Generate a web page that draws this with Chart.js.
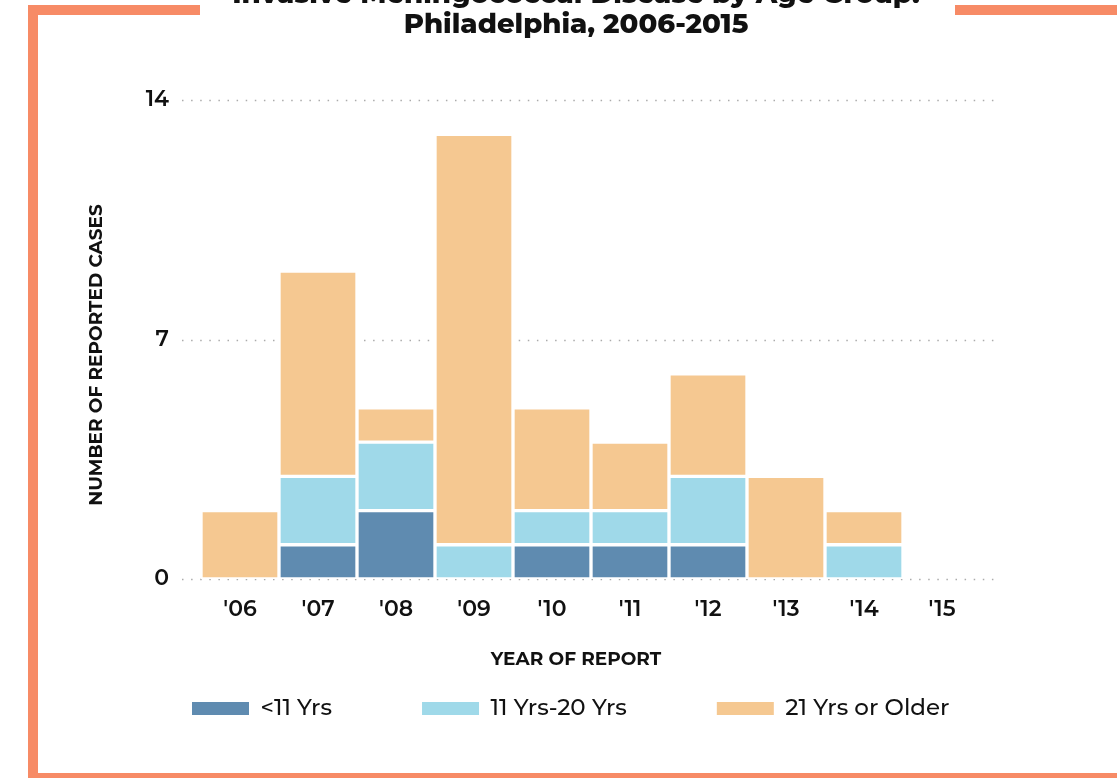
<!DOCTYPE html>
<html><head><meta charset="utf-8">
<script src="https://cdn.jsdelivr.net/npm/chart.js@4.4.1/dist/chart.umd.min.js"></script>
<style>html,body{margin:0;padding:0;background:#fff;overflow:hidden}canvas{display:block}</style>
</head><body>
<canvas id="c" width="1117" height="778"></canvas>
<script>
const titleLines = ["Invasive Meningococcal Disease by Age Group:", "Philadelphia, 2006-2015"];
const yAxisTitle = "NUMBER OF REPORTED CASES";
const xAxisTitle = "YEAR OF REPORT";
const years = ["'06", "'07", "'08", "'09", "'10", "'11", "'12", "'13", "'14", "'15"];
const seriesNames = ["<11 Yrs", "11 Yrs-20 Yrs", "21 Yrs or Older"];
const under11   = [0, 1, 2, 0, 1, 1, 1, 0, 0, 0];
const age11to20 = [0, 2, 2, 1, 1, 1, 2, 0, 1, 0];
const age21plus = [2, 6, 1, 12, 3, 2, 3, 3, 1, 0];
const yTicks = [0, 7, 14];

const FONT = "'Montserrat', 'Open Sans', sans-serif";
const COLORS = ["#5F8BB0", "#9FD9E9", "#F5C891"];
Chart.defaults.font.family = FONT;

const LEG_PAD = 90, LEG_FONT = 23;

const deco = {
  id: 'deco',
  beforeDraw(chart) {
    const ctx = chart.ctx;
    ctx.save();
    ctx.fillStyle = '#fff';
    ctx.fillRect(0, 0, chart.width, chart.height);
    ctx.strokeStyle = '#F78B66';
    ctx.lineWidth = 10;
    ctx.strokeRect(33, 10, 1090, 768);
    ctx.fillStyle = '#fff';
    ctx.fillRect(200, 0, 755, 17);
    ctx.fillStyle = '#111';
    ctx.textAlign = 'center';
    ctx.textBaseline = 'alphabetic';
    ctx.font = "800 27.5px " + FONT;
    ctx.fillText(titleLines[0], 576, 3);
    ctx.fillText(titleLines[1], 576, 33);
    ctx.font = "bold 18.5px " + FONT;
    ctx.textBaseline = 'middle';
    ctx.fillText(xAxisTitle, 576, 660);
    ctx.translate(97, 355);
    ctx.rotate(-Math.PI / 2);
    ctx.fillText(yAxisTitle, 0, 0);
    ctx.restore();
  },
  beforeDatasetsDraw(chart) {
    const ctx = chart.ctx, ys = chart.scales.y;
    ctx.save();
    ctx.strokeStyle = '#ABABAB';
    ctx.lineWidth = 1.5;
    ctx.setLineDash([1.5, 7.6]);
    ys.ticks.forEach(t => {
      const py = Math.round(ys.getPixelForValue(t.value)) + 0.5;
      ctx.beginPath();
      ctx.moveTo(182, py);
      ctx.lineTo(997, py);
      ctx.stroke();
    });
    ctx.restore();
  },
  afterLayout(chart) {
    const lg = chart.legend;
    if (!lg) return;
    lg.top = 697 - LEG_PAD;
    lg.bottom = lg.top + lg.height;
    lg.left = 192 - LEG_PAD;
    lg.right = 1117;
  }
};

new Chart(document.getElementById('c'), {
  type: 'bar',
  data: {
    labels: years,
    datasets: [
      { label: seriesNames[0], data: under11, backgroundColor: COLORS[0] },
      { label: seriesNames[1], data: age11to20, backgroundColor: COLORS[1] },
      { label: seriesNames[2], data: age21plus, backgroundColor: COLORS[2] }
    ].map(d => Object.assign(d, {
      borderColor: '#ffffff', borderWidth: 2, borderSkipped: false,
      barPercentage: 1, categoryPercentage: 1
    }))
  },
  options: {
    responsive: false,
    animation: false,
    events: [],
    layout: { padding: { top: 100, right: 136, left: 0, bottom: 0 } },
    plugins: {
      title: { display: false },
      tooltip: { enabled: false },
      legend: {
        position: 'bottom',
        align: 'start',
        labels: {
          boxWidth: 57, boxHeight: 13, padding: LEG_PAD,
          color: '#111', font: { size: LEG_FONT, weight: 500, family: FONT },
          generateLabels(chart) {
            const items = Chart.defaults.plugins.legend.labels.generateLabels(chart);
            items.forEach(i => { i.lineWidth = 0; i.strokeStyle = i.fillStyle; });
            return items;
          }
        }
      }
    },
    scales: {
      x: {
        stacked: true,
        grid: { display: false, drawTicks: false },
        border: { display: false },
        ticks: { color: '#111', font: { size: 22, weight: 600 }, padding: 17, maxRotation: 0 },
        afterFit(s) { s.height = 778 - 579 - (LEG_FONT + LEG_PAD + 10); }
      },
      y: {
        stacked: true,
        min: 0, max: 14,
        grid: { display: false, drawTicks: false },
        border: { display: false },
        ticks: { color: '#111', font: { size: 22, weight: 600 }, padding: 32 },
        afterBuildTicks(s) { s.ticks = yTicks.map(v => ({ value: v })); },
        afterFit(s) { s.width = 201; }
      }
    }
  },
  plugins: [deco]
});
</script>
</body></html>
